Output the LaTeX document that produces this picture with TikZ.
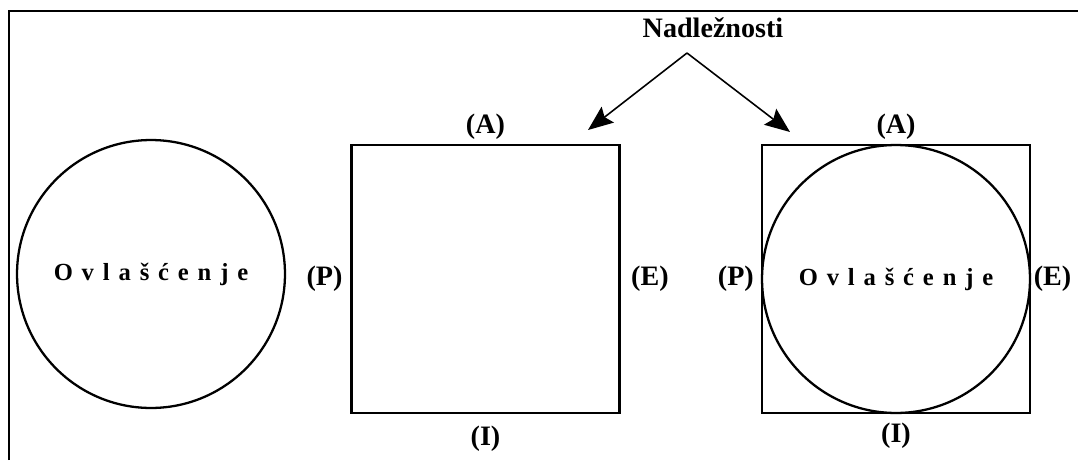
\documentclass[tikz,border=0pt]{standalone}
\usepackage{fontspec}
\setmainfont{Liberation Serif}
\newfontfamily\spacedfont[LetterSpace=36]{Liberation Serif}
\usetikzlibrary{positioning, arrows.meta}
\tikzset{
  fieldcircle/.style={draw, line width=1.3pt, circle, minimum size=5.36cm, inner sep=0pt,
    font=\spacedfont\fontsize{14}{16}\selectfont\bfseries},
  fieldsquare/.style={draw, line width=1.3pt, rectangle, minimum size=5.36cm, inner sep=0pt},
  side/.style={font=\fontsize{16}{18}\selectfont\bfseries},
}

\begin{document}
\begin{tikzpicture}[x=0.02cm, y=-0.02cm]
\useasboundingbox (0,0) rectangle (1078,460);
\draw[line width=1.7pt] (9,460) -- (9,11) -- (1078,11);
% left: circle only
\node (C1) [fieldcircle] at (151,274) {Ovlašćenje};
% middle: square only
\node (S2) [fieldsquare] at (485.5,279) {};
\node (A2) [side, above=-1pt of S2] {(A)};
\node (I2) [side, below=3pt of S2] {(I)};
\node (P2) [side, left=1pt of S2] {(P)};
\node (E2) [side, right=2.5pt of S2] {(E)};
% right: square with circle
\node (S3) [fieldsquare] at (896,279) {};
\node (C3) [fieldcircle] at (S3) {Ovlašćenje};
\node (A3) [side, above=-1pt of S3] {(A)};
\node (I3) [side, below=1.5pt of S3] {(I)};
\node (P3) [side, left=0.5pt of S3] {(P)};
\node (E3) [side, right=-2pt of S3] {(E)};
% competences
\node (N) [side] at (713,28) {Nadležnosti};
\coordinate (fork) at (687,53);
\coordinate (tipA) at (588,130);
\coordinate (tipB) at (790,132);
\draw[line width=0.9pt, -{Stealth[length=5mm, width=4mm, inset=0.8mm]}] (fork) -- (tipA);
\draw[line width=0.9pt, -{Stealth[length=5mm, width=4mm, inset=0.8mm]}] (fork) -- (tipB);
\end{tikzpicture}
\end{document}
